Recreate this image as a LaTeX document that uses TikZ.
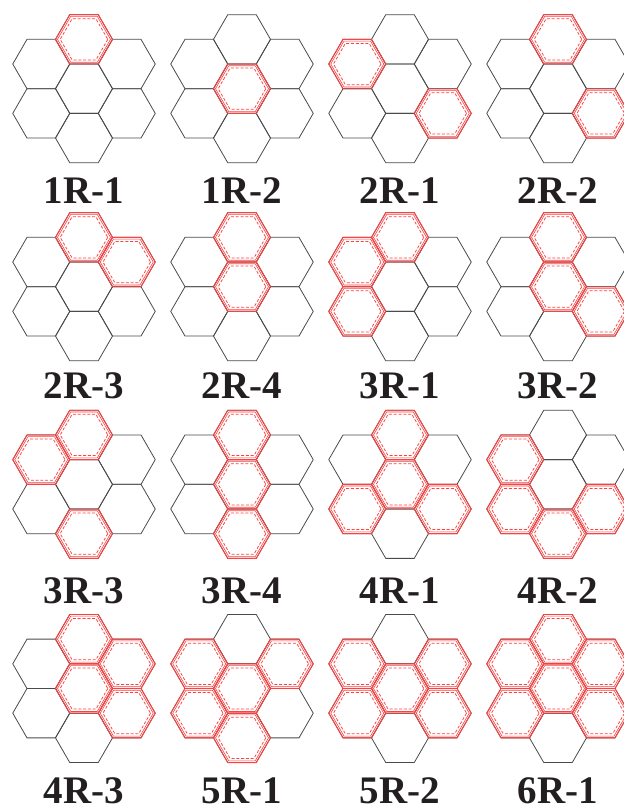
\documentclass[tikz,border=0pt]{standalone}
\usepackage{fontspec}
\setmainfont{Liberation Serif}
\definecolor{hexgray}{HTML}{4A4A4A}
\definecolor{hexred}{HTML}{FF4040}
\definecolor{labelcol}{HTML}{231F20}
\tikzset{
  blackhex/.style={draw=hexgray, line width=0.8pt, line join=miter},
  redhex/.style={draw=hexred, line width=0.9pt, line join=miter},
  redinner/.style={draw=hexred, line width=0.6pt, line join=miter},
  reddash/.style={draw=hexred, line width=0.75pt, dash pattern=on 3pt off 1.8pt},
  lab/.style={anchor=base, text=labelcol, font=\fontsize{39}{39}\selectfont\bfseries, inner sep=0pt, text depth=0pt}
}
\newcommand{\hexat}[4]{%
  \draw[#1] ({#2+#4},{#3}) -- ({#2+#4/2},{#3+#4*0.8660254}) -- ({#2-#4/2},{#3+#4*0.8660254}) -- ({#2-#4},{#3}) -- ({#2-#4/2},{#3-#4*0.8660254}) -- ({#2+#4/2},{#3-#4*0.8660254}) -- cycle;}
\newcommand{\cluster}[6]{% name, cx, cy, redlist, label, label baseline
  \foreach \i in {1,...,7}{
    \pgfmathsetmacro{\hx}{#2+{0,-42.75,42.75,0,-42.75,42.75,0}[\i-1]}
    \pgfmathsetmacro{\hy}{#3+{-49.36,-24.68,-24.68,0,24.68,24.68,49.36}[\i-1]}
    \hexat{blackhex}{\hx}{\hy}{28.5}
  }
  \foreach \i in {#4}{
    \pgfmathsetmacro{\hx}{#2+{0,-42.75,42.75,0,-42.75,42.75,0}[\i-1]}
    \pgfmathsetmacro{\hy}{#3+{-49.36,-24.68,-24.68,0,24.68,24.68,49.36}[\i-1]}
    \hexat{redhex}{\hx}{\hy}{28.5}
  }
  \foreach \i in {#4}{
    \pgfmathsetmacro{\hx}{#2+{0,-42.75,42.75,0,-42.75,42.75,0}[\i-1]}
    \pgfmathsetmacro{\hy}{#3+{-49.36,-24.68,-24.68,0,24.68,24.68,49.36}[\i-1]}
    \hexat{redinner}{\hx}{\hy}{26.5}
    \hexat{reddash}{\hx}{\hy}{23.8}
  }
  \node[lab] (#1) at (#2,#6) {#5};
}
\begin{document}
\begin{tikzpicture}[x=1pt,y=-1pt]
\useasboundingbox (0,0) rectangle (624,812);
\fill[white] (0,0) rectangle (624,812);
% row 1
\cluster{l1}{84}{88.7}{1}{1R-1}{203}
\cluster{l2}{242}{88.7}{4}{1R-2}{203}
\cluster{l3}{400}{88.7}{2,6}{2R-1}{203}
\cluster{l4}{558}{88.7}{1,6}{2R-2}{203}
% row 2
\cluster{l5}{84}{286.7}{1,3}{2R-3}{398}
\cluster{l6}{242}{286.7}{1,4}{2R-4}{398}
\cluster{l7}{400}{286.7}{1,2,5}{3R-1}{398}
\cluster{l8}{558}{286.7}{1,4,6}{3R-2}{398}
% row 3
\cluster{l9}{84}{484.3}{1,2,7}{3R-3}{603}
\cluster{l10}{242}{484.3}{1,4,7}{3R-4}{603}
\cluster{l11}{400}{484.3}{1,4,5,6}{4R-1}{603}
\cluster{l12}{558}{484.3}{2,5,6,7}{4R-2}{603}
% row 4
\cluster{l13}{84}{688.5}{1,3,4,6}{4R-3}{803}
\cluster{l14}{242}{688.5}{2,3,4,5,7}{5R-1}{803}
\cluster{l15}{400}{688.5}{2,3,4,5,6}{5R-2}{803}
\cluster{l16}{558}{688.5}{1,2,3,4,5,6}{6R-1}{803}
\end{tikzpicture}
\end{document}
